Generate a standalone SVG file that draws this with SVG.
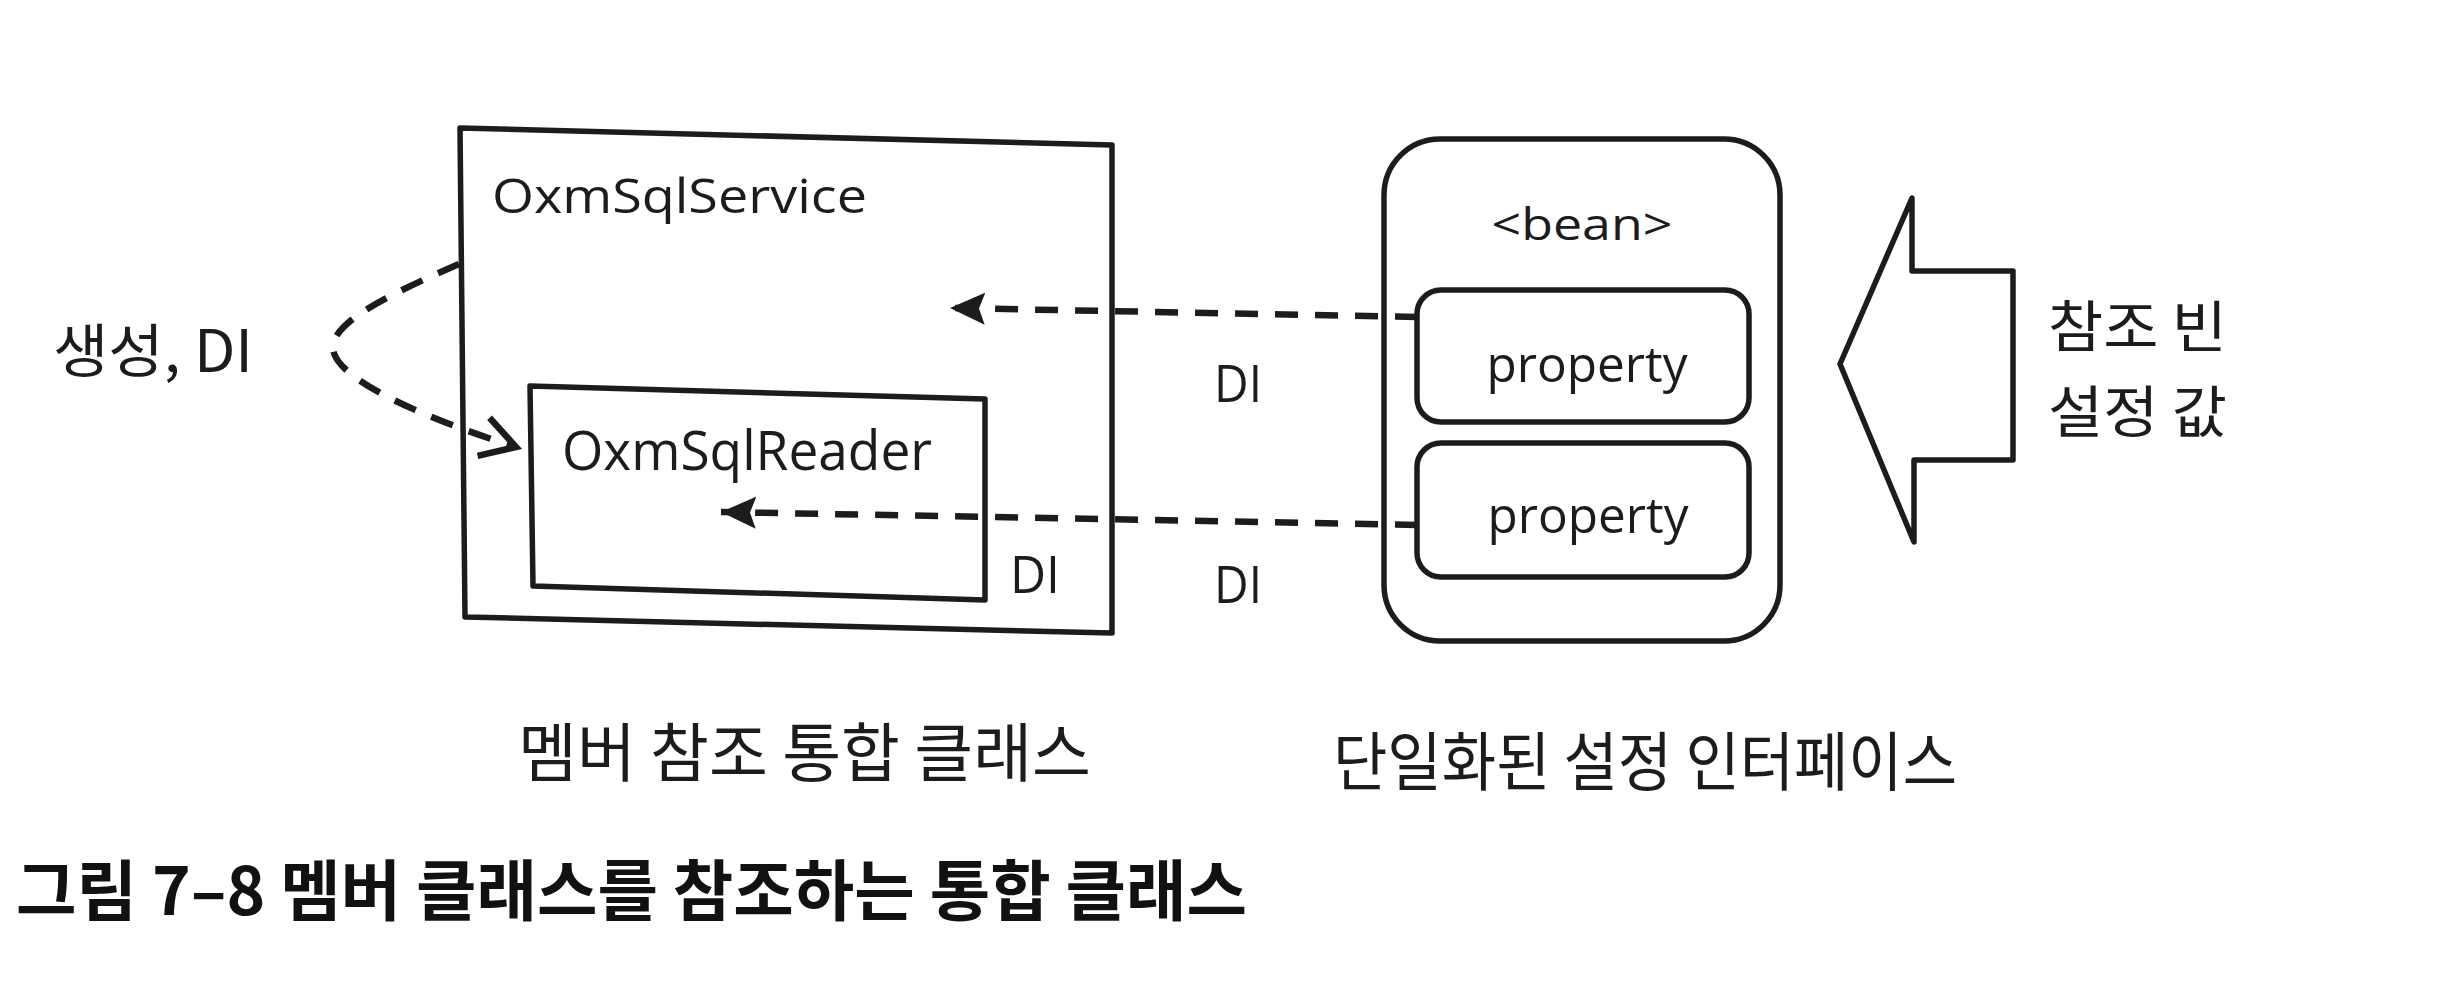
<svg xmlns="http://www.w3.org/2000/svg" width="2445" height="1000" viewBox="0 0 2445 1000">
<style>
.box{fill:none;stroke:#1c1c1c;stroke-width:5.5;stroke-linejoin:round}
.dash{fill:none;stroke:#1c1c1c;stroke-width:6.5;stroke-dasharray:23 17}
.lat{font-family:"Open Sans","Noto Sans","DejaVu Sans",sans-serif;fill:#1c1c1c}
.kor{font-family:"Noto Sans CJK KR","Noto Sans",sans-serif;fill:#1c1c1c}
.cap{font-family:"Noto Sans CJK KR","Noto Sans",sans-serif;fill:#111;font-weight:bold}
</style>
<defs>
<marker id="fillhead" markerUnits="userSpaceOnUse" viewBox="0 0 36 36" markerWidth="36" markerHeight="36" refX="35" refY="18" orient="auto">
<path d="M0,2 L35,18 L0,34 L6,18 Z" fill="#1c1c1c" stroke="none"/>
</marker>
<marker id="openhead" markerUnits="userSpaceOnUse" viewBox="0 0 48 48" markerWidth="48" markerHeight="48" refX="42" refY="24" orient="auto">
<path d="M8,4 L42,24 L8,44" fill="none" stroke="#1c1c1c" stroke-width="6.5" stroke-dasharray="none" stroke-linejoin="miter"/>
</marker>
</defs>
<rect width="2445" height="1000" fill="#ffffff"/>

<g id="oxmSqlService">
<path class="box" d="M460,128 L1112,145 L1112,633 L465,617 Z"/>
<text class="lat" x="492" y="213" font-size="48" textLength="375" lengthAdjust="spacingAndGlyphs">OxmSqlService</text>
</g>

<g id="oxmSqlReader">
<path class="box" d="M530,386 L985,399 L985,600 L533,586 Z"/>
<text class="lat" x="562" y="470" font-size="54" textLength="370" lengthAdjust="spacingAndGlyphs">OxmSqlReader</text>
</g>

<g id="bean">
<rect class="box" x="1384" y="139" width="396" height="502" rx="56" ry="56"/>
<text class="lat" x="1582" y="240" font-size="44" text-anchor="middle" textLength="181" lengthAdjust="spacingAndGlyphs">&lt;bean&gt;</text>
</g>

<g id="property1">
<rect class="box" x="1417" y="290" width="332" height="132" rx="24" ry="24"/>
<text class="lat" x="1587" y="382" font-size="49" text-anchor="middle" textLength="201" lengthAdjust="spacingAndGlyphs">property</text>
</g>

<g id="property2">
<rect class="box" x="1417" y="443" width="332" height="134" rx="24" ry="24"/>
<text class="lat" x="1588" y="533" font-size="49" text-anchor="middle" textLength="201" lengthAdjust="spacingAndGlyphs">property</text>
</g>

<g id="refArrow">
<path class="box" d="M1840,364 L1912,198 L1912,271 L2013,271 L2013,460 L1914,460 L1914,542 Z"/>
<text class="kor" x="2048" y="347" font-size="56" textLength="179" lengthAdjust="spacingAndGlyphs">참조 빈</text>
<text class="kor" x="2048" y="432" font-size="56" textLength="179" lengthAdjust="spacingAndGlyphs">설정 값</text>
</g>

<g id="connectors">
<path class="dash" d="M459,264 C400,290 332,320 333,348 C334,380 430,420 516,447" marker-end="url(#openhead)"/>
<path class="dash" d="M1418,317 L950,308" marker-end="url(#fillhead)"/>
<path class="dash" d="M1418,525 L721,512" marker-end="url(#fillhead)"/>
</g>

<g id="labels">
<text class="kor" x="53" y="372" font-size="58" textLength="200" lengthAdjust="spacingAndGlyphs">생성, DI</text>
<text class="lat" x="1214" y="402" font-size="52" textLength="48" lengthAdjust="spacingAndGlyphs">DI</text>
<text class="lat" x="1214" y="603" font-size="52" textLength="48" lengthAdjust="spacingAndGlyphs">DI</text>
<text class="lat" x="1010" y="593" font-size="52" textLength="50" lengthAdjust="spacingAndGlyphs">DI</text>
<text class="kor" x="518" y="776" font-size="64" textLength="573" lengthAdjust="spacingAndGlyphs">멤버 참조 통합 클래스</text>
<text class="kor" x="1333" y="785" font-size="64" textLength="624" lengthAdjust="spacingAndGlyphs">단일화된 설정 인터페이스</text>
<text class="cap" x="16" y="915" font-size="66" textLength="1231" lengthAdjust="spacingAndGlyphs">그림 7–8 멤버 클래스를 참조하는 통합 클래스</text>
</g>
</svg>
